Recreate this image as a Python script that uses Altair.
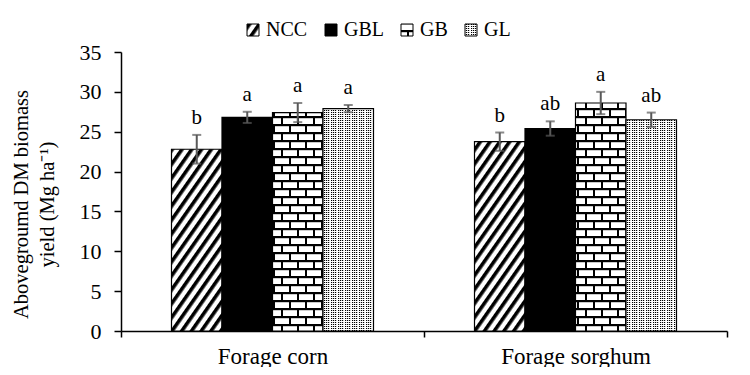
import altair as alt
import pandas as pd
import jinja2

crops = ["Forage corn", "Forage sorghum"]
treatments = ["NCC", "GBL", "GB", "GL"]
corn_mean = [22.8, 26.8, 27.4, 27.9]
corn_err = [1.8, 0.7, 1.2, 0.45]
corn_letters = ["b", "a", "a", "a"]
sorghum_mean = [23.75, 25.4, 28.6, 26.5]
sorghum_err = [1.15, 0.9, 1.4, 0.9]
sorghum_letters = ["b", "ab", "a", "ab"]
y_ticks = [0, 5, 10, 15, 20, 25, 30, 35]
fills = ["url(#p-ncc)", "black", "url(#p-gb)", "url(#p-gl)"]

rows = []
for crop, means, errs, lets in [
    (crops[0], corn_mean, corn_err, corn_letters),
    (crops[1], sorghum_mean, sorghum_err, sorghum_letters),
]:
    for t, m, e, l in zip(treatments, means, errs, lets):
        rows.append(dict(crop=crop, trt=t, mean=m, lo=m - e, hi=m + e, letter=l))
df = pd.DataFrame(rows)

FONT = "Liberation Serif"

x = alt.X(
    "crop:N",
    sort=crops,
    scale=alt.Scale(paddingInner=0, paddingOuter=0),
    axis=alt.Axis(
        title=None, labelAngle=0, tickBand="extent", domainColor="black",
        domainWidth=1.5, tickColor="black", tickWidth=1.5, tickSize=6,
        labelPadding=8, labelFont=FONT, labelFontSize=23, labelColor="black",
    ),
)
xo = alt.XOffset("trt:N", sort=treatments,
                 scale=alt.Scale(paddingOuter=1, paddingInner=0))

y_scale = alt.Scale(domain=[0, 35], nice=False)
y_axis = alt.Axis(
    title=["Abovegroumd DM biomass", "yield (Mg ha\u207b\u00b9)"],
    values=y_ticks, tickCount=8, labelOverlap=False, grid=False, tickSize=7,
    tickWidth=1.5, tickColor="black", domainColor="black", domainWidth=1.5,
    labelPadding=13, labelFont=FONT, labelFontSize=22, labelColor="black",
    titleFont=FONT, titleFontSize=20.5, titleFontWeight="normal",
    titleColor="black", titleX=-94, titleY=152, titleAngle=-90,
    titleAlign="center", titleBaseline="alphabetic", titleLineHeight=26,
)


def yenc(field):
    return alt.Y(field, scale=y_scale, axis=y_axis)


base = alt.Chart(df)

bars = base.mark_bar(stroke="black", strokeWidth=1.2).encode(
    x=x,
    xOffset=xo,
    y=yenc("mean:Q"),
    color=alt.Color(
        "trt:N", sort=treatments,
        scale=alt.Scale(domain=treatments, range=fills),
        legend=alt.Legend(
            title=None, orient="none", legendX=122, legendY=-32,
            direction="horizontal", columns=4, symbolType="square",
            symbolSize=144, symbolStrokeColor="black", symbolStrokeWidth=1,
            labelFont=FONT, labelFontSize=20, labelColor="black",
            labelOffset=3, columnPadding=13, padding=0,
        ),
    ),
)

rule = base.mark_rule(color="#595959", strokeWidth=2).encode(
    x=x, xOffset=xo, y=yenc("lo:Q"), y2="hi:Q"
)
cap_lo = base.mark_tick(color="#595959", thickness=2, size=9, orient="horizontal").encode(
    x=x, xOffset=xo, y=yenc("lo:Q")
)
cap_hi = base.mark_tick(color="#595959", thickness=2, size=9, orient="horizontal").encode(
    x=x, xOffset=xo, y=yenc("hi:Q")
)
letters = base.mark_text(font=FONT, fontSize=21, dy=-11, baseline="alphabetic",
                         color="black").encode(
    x=x, xOffset=xo, y=yenc("hi:Q"), text="letter:N"
)

chart = (
    alt.layer(bars, rule, cap_lo, cap_hi, letters)
    .properties(
        width=606, height=279,
        autosize=alt.AutoSizeParams(type="none"),
        padding={"left": 113, "top": 44, "right": 15, "bottom": 36},
        background="white",
    )
    .configure_view(stroke=None)
)

TEMPLATE = jinja2.Template("""<!DOCTYPE html>
<html>
<head>
<meta charset="utf-8">
<script type="text/javascript" src="{{ base_url }}/vega@{{ vega_version }}"></script>
<script type="text/javascript" src="{{ base_url }}/vega-lite@{{ vegalite_version }}"></script>
<script type="text/javascript" src="{{ base_url }}/vega-embed@{{ vegaembed_version }}"></script>
</head>
<body>
<svg width="0" height="0" style="position:absolute;left:0;top:0" aria-hidden="true">
 <defs>
  <pattern id="p-ncc" patternUnits="userSpaceOnUse" width="8" height="8" patternTransform="rotate(35)">
   <rect width="8" height="8" fill="white"/>
   <rect width="3.6" height="8" fill="black"/>
  </pattern>
  <pattern id="p-gb" patternUnits="userSpaceOnUse" width="16" height="16">
   <rect width="16" height="16" fill="white"/>
   <rect x="0" y="0" width="16" height="2.2" fill="black"/>
   <rect x="0" y="8" width="16" height="2.2" fill="black"/>
   <rect x="0" y="0" width="2" height="8" fill="black"/>
   <rect x="8" y="8" width="2" height="8" fill="black"/>
  </pattern>
  <pattern id="p-gl" patternUnits="userSpaceOnUse" width="7" height="2">
   <rect width="7" height="2" fill="white"/>
   <rect x="0" y="0" width="1.2" height="1" fill="black"/>
   <rect x="2" y="0" width="1.2" height="1" fill="black"/>
   <rect x="4" y="0" width="1.2" height="1" fill="black"/>
  </pattern>
 </defs>
</svg>
<div id="{{ output_div }}"></div>
<script>
  vegaEmbed("#{{ output_div }}", {{ spec }}, {{ embed_options }}).catch(console.error);
</script>
</body>
</html>
""")

chart.save("out.html", embed_options={"renderer": "svg", "actions": False}, template=TEMPLATE)
